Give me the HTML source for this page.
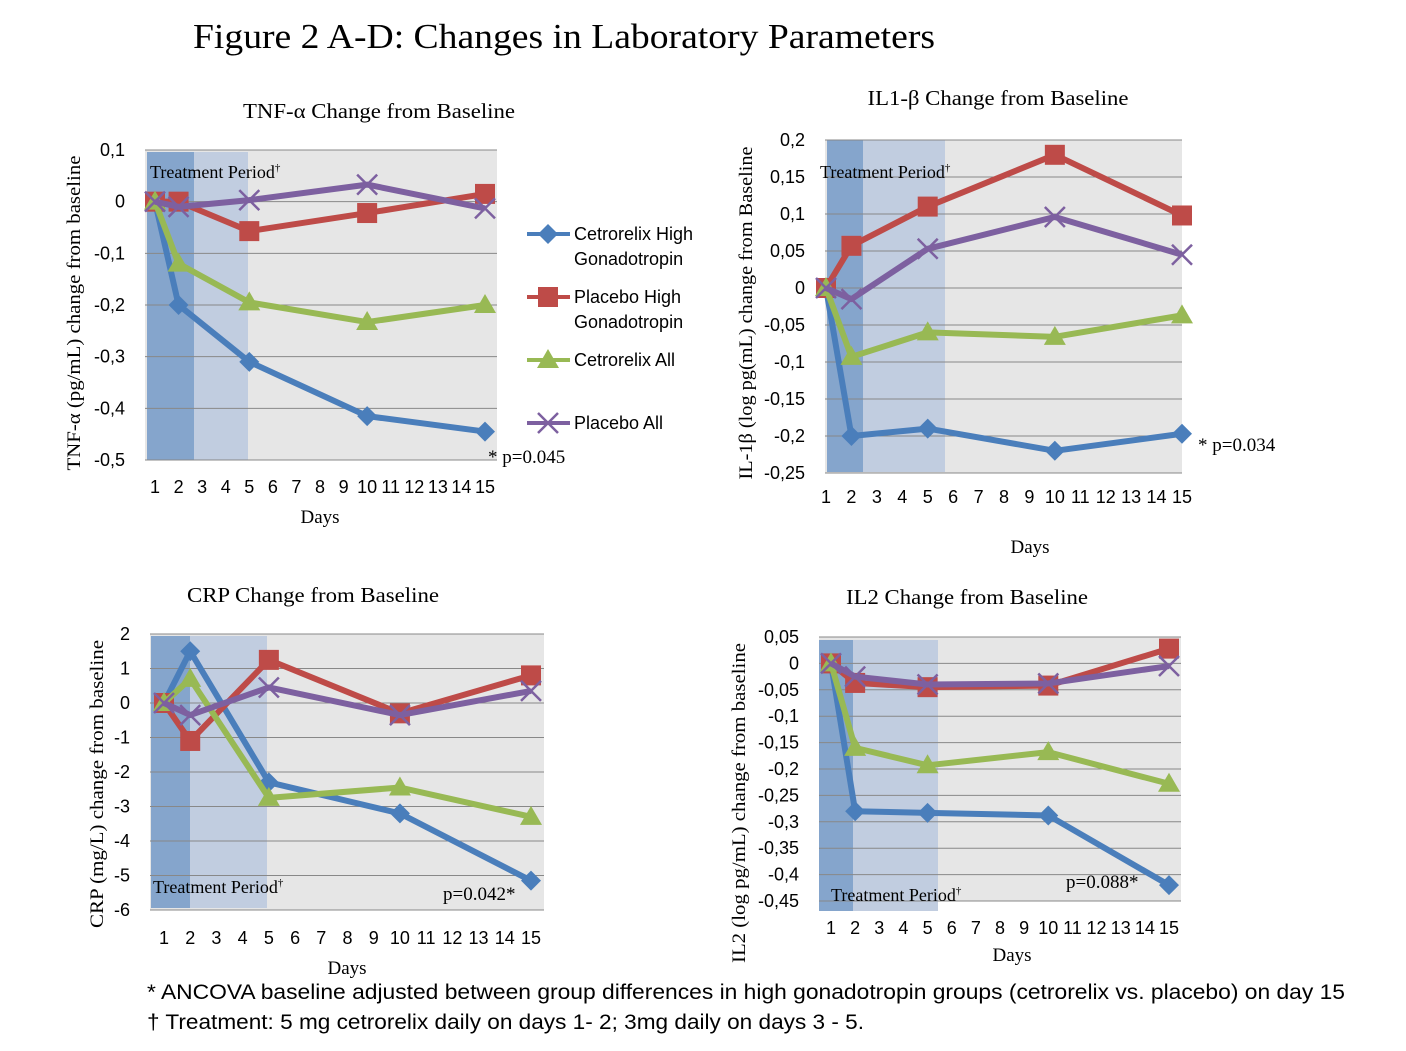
<!DOCTYPE html>
<html><head><meta charset="utf-8"><style>
body{margin:0;background:#fff;}
svg{display:block;}
.serif{font-family:"Liberation Serif",serif;}
.sans{font-family:"Liberation Sans",sans-serif;}
</style></head><body>
<svg id="svg" width="1406" height="1051" xmlns="http://www.w3.org/2000/svg">
<text class="serif" x="193" y="48" font-size="35" textLength="742" lengthAdjust="spacingAndGlyphs">Figure 2 A-D: Changes in Laboratory Parameters</text>
<text class="sans" x="147" y="999" font-size="21" textLength="1198" lengthAdjust="spacingAndGlyphs">* ANCOVA baseline adjusted between group differences in high gonadotropin groups (cetrorelix vs. placebo) on day 15</text>
<text class="sans" x="147" y="1029" font-size="21" textLength="717" lengthAdjust="spacingAndGlyphs">† Treatment: 5 mg cetrorelix daily on days 1- 2; 3mg daily on days 3 - 5.</text>
<g id="legend"></g>
</svg>
<script>
const days = [1,2,5,10,15];
const tnfBlue = [0,-0.2,-0.31,-0.415,-0.445];
const tnfRed = [0,0,-0.057,-0.022,0.015];
const tnfGreen = [0,-0.12,-0.195,-0.233,-0.2];
const tnfPurple = [0,-0.01,0.003,0.033,-0.013];
const tnfTicks = ["0,1","0","-0,1","-0,2","-0,3","-0,4","-0,5"];
const il1Blue = [0,-0.2,-0.19,-0.22,-0.197];
const il1Red = [0,0.057,0.11,0.18,0.098];
const il1Green = [0,-0.093,-0.06,-0.066,-0.037];
const il1Purple = [0,-0.015,0.053,0.096,0.045];
const il1Ticks = ["0,2","0,15","0,1","0,05","0","-0,05","-0,1","-0,15","-0,2","-0,25"];
const crpBlue = [0,1.5,-2.3,-3.2,-5.15];
const crpRed = [0,-1.1,1.25,-0.3,0.8];
const crpGreen = [0,0.7,-2.75,-2.45,-3.3];
const crpPurple = [0,-0.35,0.45,-0.35,0.35];
const crpTicks = ["2","1","0","-1","-2","-3","-4","-5","-6"];
const il2Blue = [0,-0.28,-0.283,-0.288,-0.42];
const il2Red = [0,-0.037,-0.045,-0.042,0.028];
const il2Green = [0,-0.16,-0.193,-0.168,-0.228];
const il2Purple = [0,-0.025,-0.04,-0.038,-0.005];
const il2Ticks = ["0,05","0","-0,05","-0,1","-0,15","-0,2","-0,25","-0,3","-0,35","-0,4","-0,45"];
const colors = ["#4a7ebb","#be4b48","#98b954","#7d60a0"];
const markers = ["diamond","square","triangle","x"];

const NS="http://www.w3.org/2000/svg";
const svg=document.getElementById('svg');
function mk(tag,attrs,parent){const e=document.createElementNS(NS,tag);for(const k in attrs)e.setAttribute(k,attrs[k]);(parent||svg).appendChild(e);return e;}
function txt(s,attrs,parent){const e=mk('text',attrs,parent);e.textContent=s;return e;}
function marker(g,type,x,y,c,name){
  let e;
  if(type==='diamond') e=mk('polygon',{points:`${x},${y-10} ${x+10},${y} ${x},${y+10} ${x-10},${y}`,fill:c},g);
  else if(type==='square') e=mk('rect',{x:x-10,y:y-10,width:20,height:20,fill:c},g);
  else if(type==='triangle') e=mk('polygon',{points:`${x},${y-11} ${x+11},${y+8} ${x-11},${y+8}`,fill:c},g);
  else e=mk('path',{d:`M${x-10},${y-10}L${x+10},${y+10}M${x+10},${y-10}L${x-10},${y+10}`,stroke:c,'stroke-width':2.5},g);
  
  
}
function panel(p){
  const g=mk('g',{});
  
  
  const ys=v=>p.yTop+(p.max-v)/(p.max-p.min)*(p.yBot-p.yTop);
  const xs=d=>p.x1+(d-1)/14*(p.x15-p.x1);
  mk('rect',{x:p.L,y:p.yTop,width:p.R-p.L,height:p.yBot-p.yTop,fill:'#e6e6e6'},g);
  mk('rect',{x:p.s0,y:p.sTop,width:p.s1-p.s0,height:p.sBot-p.sTop,fill:'#85a5cc'},g);
  mk('rect',{x:p.s1,y:p.sTop,width:p.s2-p.s1,height:p.sBot-p.sTop,fill:'#c1cde0'},g);
  p.ticks.forEach((t,i)=>{
    const v=p.max-i*p.step, y=ys(v);
    const l=mk('line',{x1:p.L,x2:p.R,y1:y,y2:y,stroke:'#888','stroke-width':1},g);
    
    
    const tl=txt(t,{x:p.L-20,y:y+6,'font-size':18,'text-anchor':'end','class':'sans'},g);
    
    
  });
  for(let d=1;d<=15;d++){
    const tl=txt(String(d),{x:xs(d),y:p.dayY,'font-size':18,'text-anchor':'middle','class':'sans'},g);
    
    
  }
  const tp=txt('Treatment  Period',{x:p.tpx,y:p.tpy,'font-size':18,'class':'serif'},g);
  
  
  const sup=document.createElementNS(NS,'tspan');sup.setAttribute('dy','-7');sup.setAttribute('font-size','11');sup.textContent='†';tp.appendChild(sup);
  p.series.forEach((s,i)=>{
    const pts=days.map((d,j)=>xs(d)+','+ys(s[j])).join(' ');
    const l=mk('polyline',{points:pts,fill:'none',stroke:colors[i],'stroke-width':6,'stroke-linejoin':'round'},g);
    
    
    days.forEach((d,j)=>marker(g,markers[i],xs(d),ys(s[j]),colors[i],'point-'+markers[i]));
  });
  const tt=txt(p.title,{x:p.tx,y:p.ty,'font-size':21,'text-anchor':'middle','class':'serif',textLength:p.tl,lengthAdjust:'spacingAndGlyphs'},g);
  
  
  const dx=txt('Days',{x:p.dx,y:p.dy,'font-size':19,'text-anchor':'middle','class':'serif'},g);
  
  
  const yt=txt(p.ytitle,{x:0,y:0,'font-size':19,'text-anchor':'middle','class':'serif',textLength:p.yl,lengthAdjust:'spacingAndGlyphs',transform:`translate(${p.yx},${p.yy}) rotate(-90)`},g);
  
  
  const pv=txt(p.pv,{x:p.pvx,y:p.pvy,'font-size':19,'class':'serif'},g);
  
  
}
panel({name:'panel-tnf',L:145,R:497,yTop:150,yBot:460,max:0.1,min:-0.5,step:0.1,ticks:tnfTicks,x1:155,x15:485,
 s0:147,s1:194,s2:248,sTop:152,sBot:460,dayY:493,series:[tnfBlue,tnfRed,tnfGreen,tnfPurple],
 title:'TNF-α Change from Baseline',tl:272,tx:379,ty:118,dx:320,dy:523,ytitle:'TNF-α (pg/mL) change from baseline',yl:315,yx:80,yy:313,
 pv:'*  p=0.045',pvx:488,pvy:463,tpx:150,tpy:178});
panel({name:'panel-il1b',L:825,R:1182,yTop:140,yBot:473,max:0.2,min:-0.25,step:0.05,ticks:il1Ticks,x1:826,x15:1182,
 s0:827,s1:863,s2:945,sTop:140,sBot:472,dayY:503,series:[il1Blue,il1Red,il1Green,il1Purple],
 title:'IL1-β Change from Baseline',tl:261,tx:998,ty:105,dx:1030,dy:553,ytitle:'IL-1β (log pg(mL) change from Baseline',yl:333,yx:752,yy:313,
 pv:'*  p=0.034',pvx:1198,pvy:451,tpx:820,tpy:178});
panel({name:'panel-crp',L:150,R:544,yTop:634,yBot:910,max:2,min:-6,step:1,ticks:crpTicks,x1:164,x15:531,
 s0:151,s1:190,s2:267,sTop:636,sBot:908,dayY:944,series:[crpBlue,crpRed,crpGreen,crpPurple],
 title:'CRP Change from Baseline',tl:252,tx:313,ty:602,dx:347,dy:974,ytitle:'CRP (mg/L) change from baseline',yl:288,yx:103,yy:784,
 pv:'p=0.042*',pvx:443,pvy:900,tpx:153,tpy:893});
panel({name:'panel-il2',L:819,R:1181,yTop:637,yBot:901,max:0.05,min:-0.45,step:0.05,ticks:il2Ticks,x1:831,x15:1169,
 s0:819,s1:853,s2:938,sTop:640,sBot:911,dayY:934,series:[il2Blue,il2Red,il2Green,il2Purple],
 title:'IL2 Change from Baseline',tl:242,tx:967,ty:604,dx:1012,dy:961,ytitle:'IL2 (log pg/mL) change from baseline',yl:320,yx:745,yy:803,
 pv:'p=0.088*',pvx:1066,pvy:888,tpx:831,tpy:901});
const lg=document.getElementById('legend');
const legY=[234,297,360,423];
const legL1=["Cetrorelix High","Placebo High","Cetrorelix  All","Placebo All"];
const legL2=["Gonadotropin","Gonadotropin","",""];
legY.forEach((y,i)=>{
  const l=mk('line',{x1:527,x2:570,y1:y,y2:y,stroke:colors[i],'stroke-width':4},lg);
  
  
  marker(lg,markers[i],548,y,colors[i],'legend-marker');
  const t=txt(legL1[i],{x:574,y:y+6,'font-size':18,'class':'sans'},lg);
  
  
  if(legL2[i]){const t2=txt(legL2[i],{x:574,y:y+31,'font-size':18,'class':'sans'},lg);
  
  }
});
</script>
</body></html>
